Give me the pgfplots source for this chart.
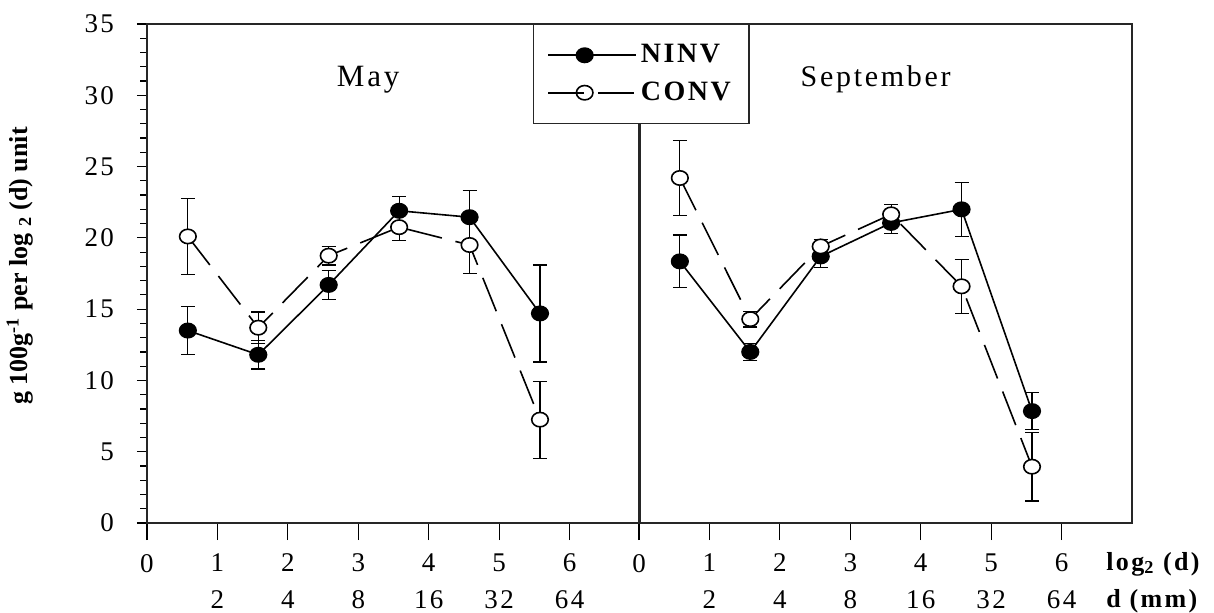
\documentclass[border=0pt]{standalone}
\usepackage{fontspec}
\setmainfont{Liberation Serif}
\newfontfamily\spc[LetterSpace=9]{Liberation Serif}
\usepackage{pgfplots}
\pgfplotsset{compat=1.18}

\pgfplotsset{
  panel/.style={
    scale only axis, width=246.5pt, height=249.5pt,
    xmin=0, xmax=7, ymin=0, ymax=35,
    xtick={0,...,6},
    xticklabels={0,1\\2,2\\4,3\\8,4\\16,5\\32,6\\64},
    xtick pos=left,
    tick align=outside,
    major tick length=5pt, minor tick length=3.3pt,
    xtick style={/pgfplots/major tick length=8.5pt},
    xticklabel style={align=center, yshift=-7pt, font=\spc\fontsize{13.5}{18.5}\selectfont},
    axis line style={line width=0.6pt, black!85},
    tick style={line width=0.6pt, black},
    clip=false,
  },
  ninv/.style={black, line width=0.8pt, solid, mark=*, mark size=3.6pt,
    mark options={solid, fill=black, xscale=1.15},
    legend image code/.code={
      \draw[##1, mark repeat=2, mark phase=2] plot coordinates {(0pt,0pt) (18.25pt,0pt) (36.5pt,0pt)};
      \path (0pt,0pt) -- (44pt,0pt);},
    error bars/.cd, y dir=both, y explicit,
    error bar style={solid, line width=0.6pt},
    error mark options={rotate=90, mark size=3.5pt, line width=0.6pt}},
  conv/.style={black, line width=0.8pt, dash pattern=on 18pt off 7pt, mark=*, mark size=3.6pt,
    mark options={solid, fill=white, xscale=1.15},
    legend image code/.code={
      \draw[##1, dash pattern=on 18.25pt off 10.25pt on 8pt off 10pt, mark repeat=2, mark phase=2]
        plot coordinates {(0pt,0pt) (18.25pt,0pt) (36.5pt,0pt)};
      \path (0pt,0pt) -- (44pt,0pt);},
    error bars/.cd, y dir=both, y explicit,
    error bar style={solid, line width=0.6pt},
    error mark options={rotate=90, mark size=3.5pt, line width=0.6pt}},
}

\begin{document}
\begin{tikzpicture}
\useasboundingbox (-73.5pt,-44.5pt) rectangle (533.5pt,261.5pt);

% September
\begin{axis}[panel, at={(246pt,0)}, anchor=south west, ytick=\empty]
\addplot[ninv] coordinates {
  (0.58,18.35) +- (0,1.85)
  (1.58,12.0)  +- (0,0.6)
  (2.58,18.7)  +- (0,0.8)
  (3.58,21.05) +- (0,0.75)
  (4.58,22.0)  +- (0,1.9)
  (5.58,7.85)  +- (0,1.3)
};
\addplot[conv] coordinates {
  (0.58,24.2)  +- (0,2.65)
  (1.58,14.3)  +- (0,0.55)
  (2.58,19.4)  +- (0,0.5)
  (3.58,21.65) +- (0,0.7)
  (4.58,16.6)  +- (0,1.9)
  (5.58,3.95)  +- (0,2.4)
};
\node[font=\spc\fontsize{15}{18}\selectfont] at (axis cs:3.36,31.1) {September};
\node[anchor=north west, align=left, inner xsep=0pt, font=\spc\bfseries\fontsize{13}{18.5}\selectfont]
  at (axis cs:6.63,0) [yshift=-11pt] {log\textsubscript{2} (d)\\d (mm)};
\end{axis}

% May
\begin{axis}[panel, at={(0,0)}, anchor=south west,
  ytick={0,5,...,35}, minor y tick num=4, ytick pos=left,
  /pgf/number format/assume math mode=true,
  yticklabel style={xshift=-8pt, font=\spc\fontsize{13.5}{15}\selectfont},
  ylabel={\bfseries g 100g\textsuperscript{-1} per log \textsubscript{2} (d) unit},
  ylabel style={at={(axis description cs:-0.258,0.515)}, anchor=center, font=\fontsize{13}{15}\selectfont},
  legend style={at={(rel axis cs:0.7825,1)}, anchor=north west, draw=black!85, line width=0.6pt,
    fill=white, font=\spc\bfseries\fontsize{14}{16}\selectfont, row sep=4pt,
    inner xsep=7pt, inner ysep=8pt},
  legend cell align=left,
]
\addplot[ninv] coordinates {
  (0.58,13.5)  +- (0,1.7)
  (1.58,11.8)  +- (0,1.0)
  (2.58,16.7)  +- (0,1.0)
  (3.58,21.9)  +- (0,1.0)
  (4.58,21.45) +- (0,1.85)
  (5.58,14.7)  +- (0,3.4)
};
\addlegendentry{NINV}
\addplot[conv] coordinates {
  (0.58,20.1)  +- (0,2.65)
  (1.58,13.7)  +- (0,1.1)
  (2.58,18.75) +- (0,0.65)
  (3.58,20.75) +- (0,0.95)
  (4.58,19.5)  +- (0,2.0)
  (5.58,7.25)  +- (0,2.7)
};
\addlegendentry{CONV}
\node[font=\spc\fontsize{15.5}{18}\selectfont] at (axis cs:3.14,31.1) {May};
\end{axis}
\end{tikzpicture}
\end{document}
